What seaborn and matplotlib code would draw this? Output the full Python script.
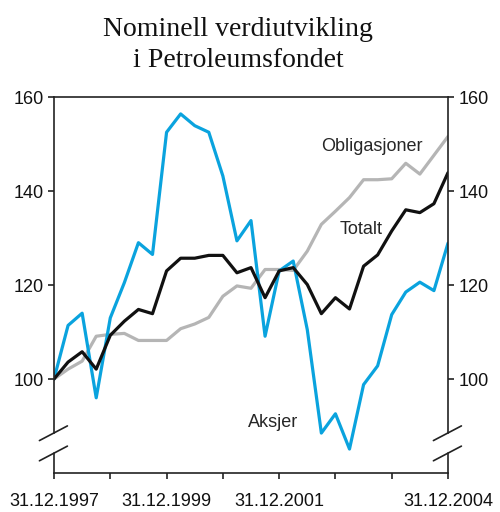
import pandas as pd
import numpy as np
import matplotlib
matplotlib.use("Agg")
import matplotlib.pyplot as plt
import seaborn as sns

# quarterly index values, 31.12.1997 = 100
quarters = list(range(29))
aksjer = [100, 111.4, 114.0, 96.0, 113.0, 120.5, 129.0, 126.5, 152.5, 156.4,
          153.9, 152.5, 143.2, 129.4, 133.7, 109.1, 123.0, 125.1, 110.5, 88.5,
          92.6, 85.1, 98.8, 102.8, 113.7, 118.5, 120.6, 118.8, 128.9]
obligasjoner = [100, 102.1, 103.8, 109.1, 109.5, 109.7, 108.2, 108.2, 108.2, 110.7,
                111.7, 113.1, 117.6, 119.8, 119.3, 123.3, 123.3, 123.1, 127.2, 132.9,
                135.7, 138.6, 142.4, 142.4, 142.6, 145.9, 143.6, 147.6, 151.6]
totalt = [100, 103.6, 105.8, 102.1, 109.3, 112.3, 114.8, 113.9, 123.0, 125.7,
          125.7, 126.3, 126.3, 122.6, 123.7, 117.3, 123.0, 123.7, 120.1, 113.9,
          117.3, 114.9, 124.0, 126.4, 131.5, 136.0, 135.4, 137.3, 143.9]
series_names = ["Obligasjoner", "Aksjer", "Totalt"]
colors = {"Obligasjoner": "#b5b5b5", "Aksjer": "#0aa3de", "Totalt": "#111111"}
xtick_pos = [0, 8, 16, 28]
xtick_labels = ["31.12.1997", "31.12.1999", "31.12.2001", "31.12.2004"]
yticks = [100, 120, 140, 160]

df = pd.concat([
    pd.DataFrame({"q": quarters, "verdi": obligasjoner, "serie": "Obligasjoner"}),
    pd.DataFrame({"q": quarters, "verdi": aksjer, "serie": "Aksjer"}),
    pd.DataFrame({"q": quarters, "verdi": totalt, "serie": "Totalt"}),
])

sns.set_style("white")
plt.rcParams["font.family"] = ["Liberation Sans", "DejaVu Sans"]

fig = plt.figure(figsize=(5, 5.12), dpi=100)
ax = fig.add_axes([54 / 500, 39 / 512, 394 / 500, 376 / 512])

sns.lineplot(data=df, x="q", y="verdi", hue="serie", hue_order=series_names,
             palette=colors, linewidth=2.3, legend=False, ax=ax)

ax.set_xlim(0, 28)
ax.set_ylim(80, 160)
ax.set_xticks(range(0, 29, 4))
ax.set_xticklabels([xtick_labels[xtick_pos.index(t)] if t in xtick_pos else ""
                    for t in range(0, 29, 4)])
ax.set_yticks(yticks)
ax.set_xlabel("")
ax.set_ylabel("")
ax.tick_params(axis="both", direction="out", length=4.5, width=1.2,
               labelsize=13, color="#222222", labelcolor="#111111", pad=3)
ax.tick_params(axis="y", right=True, labelright=True, left=True)
ax.tick_params(axis="x", bottom=True, pad=10)

for s in ax.spines.values():
    s.set_color("#222222")
    s.set_linewidth(1.2)

# broken y axis on both sides
lo, hi = (84.2 - 80) / 80, (88.5 - 80) / 80
for side in ["left", "right"]:
    ax.spines[side].set_bounds(88.5, 160)
    x0 = 0 if side == "left" else 1
    ax.plot([x0, x0], [0, lo], transform=ax.transAxes, color="#222222",
            lw=1.2, clip_on=False)
    for yb in [lo, hi]:
        ax.plot([x0 - 0.037, x0 + 0.034], [yb - 0.02, yb + 0.019],
                transform=ax.transAxes, color="#222222", lw=1.2, clip_on=False)

ax.text(19.0, 149.5, "Obligasjoner", fontsize=13, va="center", ha="left")
ax.text(20.3, 131.9, "Totalt", fontsize=13, va="center", ha="left")
ax.text(13.75, 90.7, "Aksjer", fontsize=13, va="center", ha="left")

fig.text(0.476, 0.912, "Nominell verdiutvikling\ni Petroleumsfondet",
         ha="center", va="center", fontsize=20, family="Liberation Serif",
         linespacing=1.3, color="#111111")

fig.savefig("out.png", dpi=100)
